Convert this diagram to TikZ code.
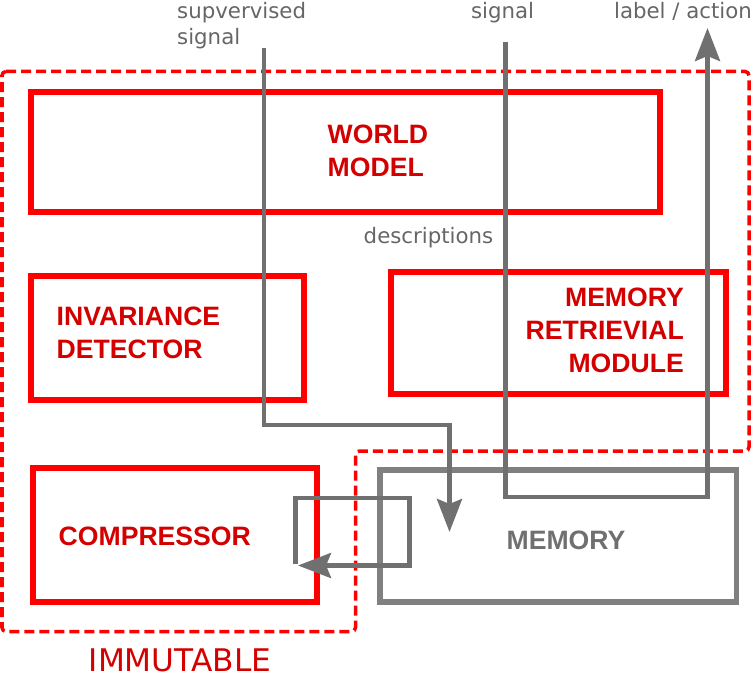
\documentclass[tikz,border=0pt]{standalone}
\usepackage{fontspec}
\setmainfont{Liberation Sans}
\newfontfamily\labfont{DejaVu Sans}
\usetikzlibrary{arrows.meta}
\definecolor{boxred}{RGB}{255,0,0}
\definecolor{txtred}{RGB}{212,0,0}
\definecolor{linegray}{RGB}{112,112,112}
\definecolor{memgray}{RGB}{128,128,128}
\definecolor{labgray}{RGB}{102,102,102}
\begin{document}
\begin{tikzpicture}[x=1pt,y=-1pt,
  redbox/.style={draw=boxred, line width=6pt, inner sep=0pt, outer sep=0pt},
  membox/.style={draw=memgray, line width=5.5pt, inner sep=0pt, outer sep=0pt},
  boxtext/.style={font=\fontsize{26.6}{33.3}\selectfont\bfseries, text=txtred, inner sep=0pt},
  labtext/.style={font=\labfont\fontsize{21.3}{26}\selectfont, text=labgray, inner sep=0pt},
  region/.style={draw=boxred, line width=3.5pt, dash pattern=on 10pt off 5pt, rounded corners=4pt},
  grayline/.style={draw=linegray, line width=4.5pt},
  tip/.style={-{Stealth[length=33pt,width=25pt,inset=5pt]}}
]
\useasboundingbox (0,0) rectangle (752,674);

% boxes
\node[redbox, minimum width=629pt, minimum height=119.5pt] (wm) at (345.5,151.75) {};
\node[redbox, minimum width=273pt, minimum height=124pt] (inv) at (167.5,338) {};
\node[redbox, minimum width=335.5pt, minimum height=122pt] (mrm) at (558.25,333) {};
\node[redbox, minimum width=284pt, minimum height=134.5pt] (cmp) at (175,534.75) {};

% immutable region
\draw[region] (2,71.5) -- (749,71.5) -- (749,451) -- (355.5,451) -- (355.5,631.5) -- (2,631.5) -- cycle;

% memory box
\node[membox, minimum width=356.5pt, minimum height=132pt] (mem) at (558.25,536) {};

% texts
\node[boxtext, anchor=west, align=left] (wmt) at (327.5,150.5) {WORLD\\MODEL};
\node[boxtext, anchor=west, align=left] (invt) at (56.5,332.5) {INVARIANCE\\DETECTOR};
\node[boxtext, anchor=east, align=right] (mrmt) at (684,330.5) {MEMORY\\RETRIEVIAL\\MODULE};
\node[boxtext, anchor=west] (cmpt) at (58.5,536) {COMPRESSOR};
\node[boxtext, text=linegray] (memt) at (566,540) {MEMORY};

\node[labtext, anchor=north west, align=left] (supl) at (177,2.5) {supvervised\\signal};
\node[labtext, anchor=north] (sigl) at (502.5,2.5) {signal};
\node[labtext, anchor=north] (actl) at (683,2.5) {label / action};
\node[labtext] (desc) at (428.5,238) {descriptions};
\node[font=\labfont\fontsize{31.2}{36}\selectfont, text=txtred, inner sep=0pt] (imm) at (180,660.5) {IMMUTABLE};

% connectors
\coordinate (sup) at (264,48);
\coordinate (supend) at (449.5,532);
\coordinate (sig) at (505.5,42);
\coordinate (act) at (707.5,28);
\coordinate (loopstart) at (295.5,564);
\coordinate (cmpin) at (298,565.5);

\draw[grayline, tip] (sup) -- (264,425) -- (449.5,425) -- (supend);
\draw[grayline, tip] (sig) -- (505.5,497) -- (707.5,497) -- (act);
\draw[grayline, tip] (loopstart) -- (295.5,498) -- (409.5,498) -- (409.5,565.5) -- (cmpin);
\end{tikzpicture}
\end{document}
